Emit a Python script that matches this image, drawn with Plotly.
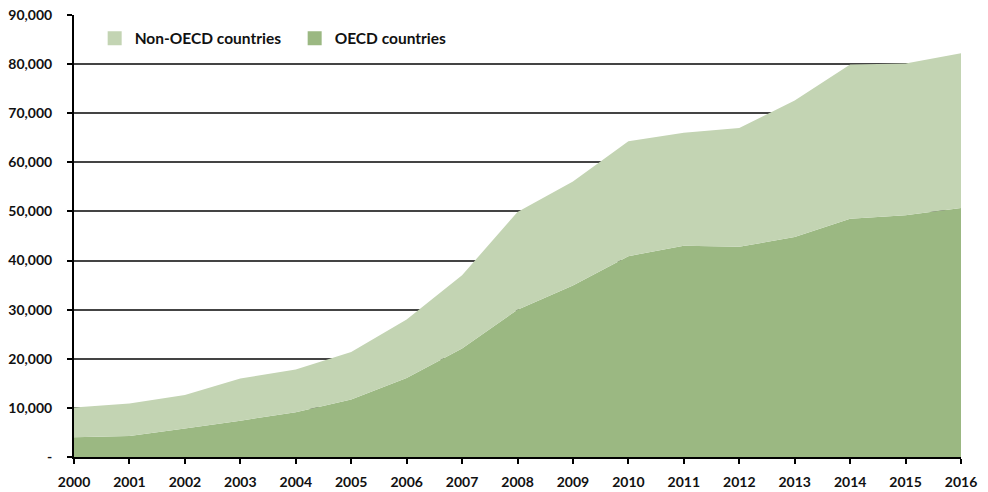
import plotly.graph_objects as go

years = list(range(2000, 2017))
oecd = [4000, 4300, 5800, 7400, 9100, 11700, 16100, 22100, 30000, 34900,
        40900, 43000, 42800, 44800, 48500, 49200, 50700]
total = [10100, 10900, 12600, 16000, 17800, 21400, 28000, 37000, 49900, 56100,
         64300, 66000, 67000, 72600, 79900, 80100, 82200]
non_oecd = [t - o for t, o in zip(total, oecd)]

y_ticks = list(range(0, 90001, 10000))
y_tick_text = ["-"] + [f"{v:,}" for v in y_ticks[1:]]

DARK = "#9BB882"
LIGHT = "#C3D4B3"
FONT = "Lato"

fig = go.Figure()
fig.add_trace(go.Scatter(
    x=years, y=oecd, name="OECD countries", mode="none",
    stackgroup="one", fillcolor=DARK, hoverinfo="x+y", showlegend=False,
))
fig.add_trace(go.Scatter(
    x=years, y=non_oecd, name="Non-OECD countries", mode="none",
    stackgroup="one", fillcolor=LIGHT, hoverinfo="x+y", showlegend=False,
))

# square swatches for the legend
for name, color in [("Non-OECD countries", LIGHT), ("OECD countries", DARK)]:
    fig.add_trace(go.Scatter(
        x=[None], y=[None], name=name, mode="markers",
        marker=dict(symbol="square", size=14, color=color),
    ))

fig.update_layout(
    width=988, height=492,
    margin=dict(l=74, r=27, t=15, b=35, autoexpand=False),
    paper_bgcolor="white", plot_bgcolor="white",
    font=dict(family=FONT, color="#111111"),
    showlegend=True,
    legend=dict(
        orientation="h", traceorder="normal",
        x=0.0233, y=0.985, xanchor="left", yanchor="top",
        font=dict(family=FONT, size=15.5, weight=700, color="#111111"),
        bgcolor="rgba(0,0,0,0)", entrywidth=155, entrywidthmode="pixels",
    ),
    xaxis=dict(
        range=[2000, 2016], tickmode="array", tickvals=years,
        ticktext=[str(y) for y in years],
        showgrid=False, zeroline=False, automargin=False,
        showline=True, linecolor="#000000", linewidth=2,
        ticks="outside", ticklen=5, tickcolor="#000000", tickwidth=1.5,
        ticklabelstandoff=6,
        tickfont=dict(family=FONT, size=14, weight=700, color="#111111"),
    ),
    yaxis=dict(
        range=[0, 90000], tickmode="array", tickvals=y_ticks,
        ticktext=y_tick_text,
        showgrid=True, gridcolor="#444444", gridwidth=1.5,
        zeroline=False, automargin=False,
        showline=True, linecolor="#000000", linewidth=2,
        ticks="outside", ticklen=5, tickcolor="#000000", tickwidth=1.5,
        ticklabelstandoff=12,
        tickfont=dict(family=FONT, size=14, weight=700, color="#111111"),
    ),
)

fig.write_html("out.html")
